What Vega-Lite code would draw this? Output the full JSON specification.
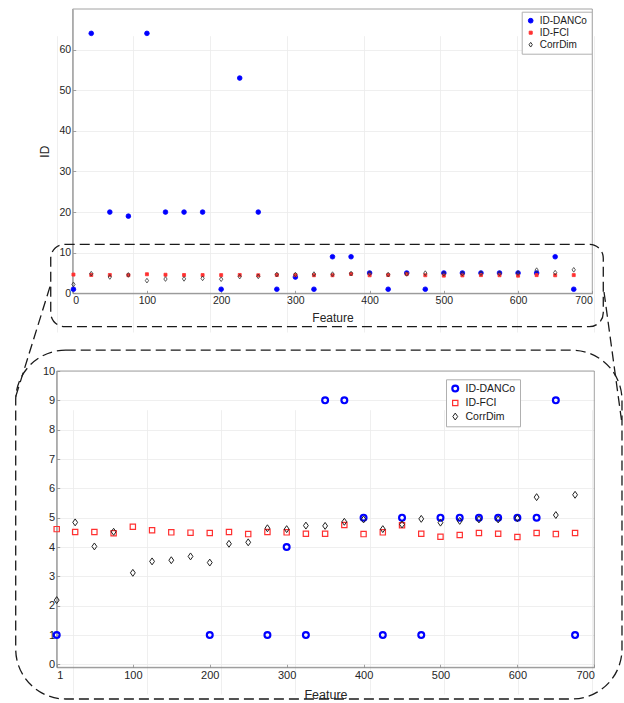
{
  "$schema": "https://vega.github.io/schema/vega-lite/v6.json",
  "width": 624,
  "height": 703,
  "autosize": {"type": "none"},
  "padding": 0,
  "background": "white",
  "datasets": {
    "pts": [
      {"feature":1,"series":"ID-DANCo","id":1},{"feature":25,"series":"ID-DANCo","id":64},{"feature":50,"series":"ID-DANCo","id":20},{"feature":75,"series":"ID-DANCo","id":19},{"feature":100,"series":"ID-DANCo","id":64},{"feature":125,"series":"ID-DANCo","id":20},{"feature":150,"series":"ID-DANCo","id":20},{"feature":175,"series":"ID-DANCo","id":20},{"feature":200,"series":"ID-DANCo","id":1},{"feature":225,"series":"ID-DANCo","id":53},{"feature":250,"series":"ID-DANCo","id":20},{"feature":275,"series":"ID-DANCo","id":1},{"feature":300,"series":"ID-DANCo","id":4},{"feature":325,"series":"ID-DANCo","id":1},{"feature":350,"series":"ID-DANCo","id":9},{"feature":375,"series":"ID-DANCo","id":9},{"feature":400,"series":"ID-DANCo","id":5},{"feature":425,"series":"ID-DANCo","id":1},{"feature":450,"series":"ID-DANCo","id":5},{"feature":475,"series":"ID-DANCo","id":1},{"feature":500,"series":"ID-DANCo","id":5},{"feature":525,"series":"ID-DANCo","id":5},{"feature":550,"series":"ID-DANCo","id":5},{"feature":575,"series":"ID-DANCo","id":5},{"feature":600,"series":"ID-DANCo","id":5},{"feature":625,"series":"ID-DANCo","id":5},{"feature":650,"series":"ID-DANCo","id":9},{"feature":675,"series":"ID-DANCo","id":1},
      {"feature":1,"series":"ID-FCI","id":4.61},{"feature":25,"series":"ID-FCI","id":4.51},{"feature":50,"series":"ID-FCI","id":4.51},{"feature":75,"series":"ID-FCI","id":4.47},{"feature":100,"series":"ID-FCI","id":4.69},{"feature":125,"series":"ID-FCI","id":4.57},{"feature":150,"series":"ID-FCI","id":4.5},{"feature":175,"series":"ID-FCI","id":4.49},{"feature":200,"series":"ID-FCI","id":4.48},{"feature":225,"series":"ID-FCI","id":4.51},{"feature":250,"series":"ID-FCI","id":4.44},{"feature":275,"series":"ID-FCI","id":4.51},{"feature":300,"series":"ID-FCI","id":4.5},{"feature":325,"series":"ID-FCI","id":4.45},{"feature":350,"series":"ID-FCI","id":4.45},{"feature":375,"series":"ID-FCI","id":4.75},{"feature":400,"series":"ID-FCI","id":4.44},{"feature":425,"series":"ID-FCI","id":4.5},{"feature":450,"series":"ID-FCI","id":4.74},{"feature":475,"series":"ID-FCI","id":4.45},{"feature":500,"series":"ID-FCI","id":4.35},{"feature":525,"series":"ID-FCI","id":4.41},{"feature":550,"series":"ID-FCI","id":4.48},{"feature":575,"series":"ID-FCI","id":4.45},{"feature":600,"series":"ID-FCI","id":4.34},{"feature":625,"series":"ID-FCI","id":4.48},{"feature":650,"series":"ID-FCI","id":4.44},{"feature":675,"series":"ID-FCI","id":4.48},
      {"feature":1,"series":"CorrDim","id":2.19},{"feature":25,"series":"CorrDim","id":4.84},{"feature":50,"series":"CorrDim","id":4.02},{"feature":75,"series":"CorrDim","id":4.52},{"feature":100,"series":"CorrDim","id":3.12},{"feature":125,"series":"CorrDim","id":3.51},{"feature":150,"series":"CorrDim","id":3.55},{"feature":175,"series":"CorrDim","id":3.68},{"feature":200,"series":"CorrDim","id":3.47},{"feature":225,"series":"CorrDim","id":4.11},{"feature":250,"series":"CorrDim","id":4.16},{"feature":275,"series":"CorrDim","id":4.64},{"feature":300,"series":"CorrDim","id":4.61},{"feature":325,"series":"CorrDim","id":4.73},{"feature":350,"series":"CorrDim","id":4.72},{"feature":375,"series":"CorrDim","id":4.86},{"feature":400,"series":"CorrDim","id":4.94},{"feature":425,"series":"CorrDim","id":4.61},{"feature":450,"series":"CorrDim","id":4.77},{"feature":475,"series":"CorrDim","id":4.96},{"feature":500,"series":"CorrDim","id":4.83},{"feature":525,"series":"CorrDim","id":4.89},{"feature":550,"series":"CorrDim","id":4.94},{"feature":575,"series":"CorrDim","id":4.94},{"feature":600,"series":"CorrDim","id":4.98},{"feature":625,"series":"CorrDim","id":5.7},{"feature":650,"series":"CorrDim","id":5.09},{"feature":675,"series":"CorrDim","id":5.78}
    ],
    "one": [{}]
  },
  "layer": [
    {
      "data": {"name": "one"},
      "mark": {"type": "rect", "fill": "transparent", "stroke": "#8c8c8c", "strokeWidth": 0.8},
      "encoding": {
        "x": {"datum": 0, "type": "quantitative", "scale": {"domain": [0, 700], "range": [72.7, 592.3], "nice": false, "zero": false}, "axis": null},
        "x2": {"datum": 700},
        "y": {"datum": 0, "type": "quantitative", "scale": {"domain": [0, 70], "range": [293.3, 9], "nice": false, "zero": false}, "axis": null},
        "y2": {"datum": 70}
      }
    },
    {
      "data": {"name": "pts"},
      "mark": {"type": "point", "filled": true, "strokeWidth": 0.8, "opacity": 1},
      "encoding": {
        "x": {"field": "feature", "type": "quantitative",
          "scale": {"domain": [0, 700], "range": [72.7, 592.3], "nice": false, "zero": false},
          "axis": {"orient": "bottom", "offset": -409.7, "values": [0,100,200,300,400,500,600,700], "title": "Feature", "grid": true, "titlePadding": 7}},
        "y": {"field": "id", "type": "quantitative",
          "scale": {"domain": [0, 70], "range": [293.3, 9], "nice": false, "zero": false},
          "axis": {"orient": "left", "offset": -72.7, "values": [0,10,20,30,40,50,60], "title": "ID", "grid": true, "titlePadding": 8}},
        "fill": {"field": "series", "type": "nominal", "scale": {"domain": ["ID-DANCo","ID-FCI","CorrDim"], "range": ["#0000ff","#ff3030","transparent"]},
          "legend": {"orient": "none", "legendX": 521.7, "legendY": 11.7, "title": null, "labelFontSize": 10, "rowPadding": 2, "labelOffset": 4}},
        "stroke": {"field": "series", "type": "nominal", "scale": {"domain": ["ID-DANCo","ID-FCI","CorrDim"], "range": ["#0000ff","#ff3030","#333333"]},
          "legend": {"orient": "none", "legendX": 521.7, "legendY": 11.7, "title": null, "labelFontSize": 10, "rowPadding": 2, "labelOffset": 4}},
        "shape": {"field": "series", "type": "nominal", "scale": {"domain": ["ID-DANCo","ID-FCI","CorrDim"], "range": ["circle","square","M0,-1L0.7,0L0,1L-0.7,0Z"]},
          "legend": {"orient": "none", "legendX": 521.7, "legendY": 11.7, "title": null, "labelFontSize": 10, "rowPadding": 2, "labelOffset": 4}},
        "size": {"field": "series", "type": "nominal", "scale": {"type": "ordinal", "domain": ["ID-DANCo","ID-FCI","CorrDim"], "range": [22, 9, 22]},
          "legend": {"orient": "none", "legendX": 521.7, "legendY": 11.7, "title": null, "labelFontSize": 10, "rowPadding": 2, "labelOffset": 4}}
      }
    },
    {
      "data": {"name": "one"},
      "mark": {"type": "rect", "fill": "transparent", "stroke": "#1a1a1a", "strokeWidth": 1.3, "strokeDash": [10, 5], "cornerRadius": 14},
      "encoding": {
        "x": {"datum": -29.6, "type": "quantitative", "scale": {"domain": [0, 700], "range": [72.7, 592.3], "nice": false, "zero": false}, "axis": null},
        "x2": {"datum": 714.8},
        "y": {"datum": 12.07, "type": "quantitative", "scale": {"domain": [0, 70], "range": [293.3, 9], "nice": false, "zero": false}, "axis": null},
        "y2": {"datum": -8.22}
      }
    },
    {
      "data": {"name": "one"},
      "mark": {"type": "rule", "stroke": "#1a1a1a", "strokeWidth": 1.3, "strokeDash": [10, 5]},
      "encoding": {
        "x": {"datum": -30.6, "type": "quantitative", "scale": {"domain": [0, 700], "range": [72.7, 592.3], "nice": false, "zero": false}, "axis": null},
        "x2": {"datum": -76.8},
        "y": {"datum": 1.63, "type": "quantitative", "scale": {"domain": [0, 70], "range": [293.3, 9], "nice": false, "zero": false}, "axis": null},
        "y2": {"datum": -25.46}
      }
    },
    {
      "data": {"name": "one"},
      "mark": {"type": "rule", "stroke": "#1a1a1a", "strokeWidth": 1.3, "strokeDash": [10, 5]},
      "encoding": {
        "x": {"datum": 715.8, "type": "quantitative", "scale": {"domain": [0, 700], "range": [72.7, 592.3], "nice": false, "zero": false}, "axis": null},
        "x2": {"datum": 739.3},
        "y": {"datum": 0.32, "type": "quantitative", "scale": {"domain": [0, 70], "range": [293.3, 9], "nice": false, "zero": false}, "axis": null},
        "y2": {"datum": -31.2}
      }
    },
    {
      "data": {"name": "one"},
      "mark": {"type": "rect", "fill": "transparent", "stroke": "#8c8c8c", "strokeWidth": 0.8},
      "encoding": {
        "x": {"datum": 1, "type": "quantitative", "scale": {"domain": [1, 700], "range": [56.7, 594.3], "nice": false, "zero": false}, "axis": null},
        "x2": {"datum": 700},
        "y": {"datum": -0.1, "type": "quantitative", "scale": {"domain": [-0.1, 10], "range": [667.3, 371], "nice": false, "zero": false}, "axis": null},
        "y2": {"datum": 10}
      }
    },
    {
      "data": {"name": "pts"},
      "transform": [{"filter": "datum.id <= 10"}],
      "mark": {"type": "point", "filled": false, "fill": "transparent", "opacity": 1},
      "encoding": {
        "x": {"field": "feature", "type": "quantitative",
          "scale": {"domain": [1, 700], "range": [56.7, 594.3], "nice": false, "zero": false},
          "axis": {"orient": "bottom", "offset": -35.7, "values": [1,100,200,300,400,500,600,700], "title": "Feature", "grid": true, "titlePadding": 8, "labelFontSize": 11, "titleFontSize": 12.5}},
        "y": {"field": "id", "type": "quantitative",
          "scale": {"domain": [-0.1, 10], "range": [667.3, 371], "nice": false, "zero": false},
          "axis": {"orient": "left", "offset": -56.7, "values": [0,1,2,3,4,5,6,7,8,9,10], "title": null, "grid": true, "labelFontSize": 11}},
        "stroke": {"field": "series", "type": "nominal", "scale": {"domain": ["ID-DANCo","ID-FCI","CorrDim"], "range": ["#0000ff","#ff3030","#222222"]},
          "legend": {"orient": "none", "legendX": 446, "legendY": 379.3, "title": null, "labelFontSize": 10.5, "rowPadding": 1.5, "labelOffset": 5}},
        "shape": {"field": "series", "type": "nominal", "scale": {"domain": ["ID-DANCo","ID-FCI","CorrDim"], "range": ["circle","square","M0,-1L0.7,0L0,1L-0.7,0Z"]},
          "legend": {"orient": "none", "legendX": 446, "legendY": 379.3, "title": null, "labelFontSize": 10.5, "rowPadding": 1.5, "labelOffset": 5}},
        "size": {"field": "series", "type": "nominal", "scale": {"type": "ordinal", "domain": ["ID-DANCo","ID-FCI","CorrDim"], "range": [34, 28, 48]},
          "legend": {"orient": "none", "legendX": 446, "legendY": 379.3, "title": null, "labelFontSize": 10.5, "rowPadding": 1.5, "labelOffset": 5}},
        "strokeWidth": {"field": "series", "type": "nominal", "scale": {"type": "ordinal", "domain": ["ID-DANCo","ID-FCI","CorrDim"], "range": [2.2, 1.2, 1]},
          "legend": {"orient": "none", "legendX": 446, "legendY": 379.3, "title": null, "labelFontSize": 10.5, "rowPadding": 1.5, "labelOffset": 5}}
      }
    },
    {
      "data": {"name": "one"},
      "mark": {"type": "rect", "fill": "transparent", "stroke": "#1a1a1a", "strokeWidth": 1.3, "strokeDash": [10, 5], "cornerRadius": 50},
      "encoding": {
        "x": {"datum": -52.3, "type": "quantitative", "scale": {"domain": [1, 700], "range": [56.7, 594.3], "nice": false, "zero": false}, "axis": null},
        "x2": {"datum": 736},
        "y": {"datum": 10.71, "type": "quantitative", "scale": {"domain": [-0.1, 10], "range": [667.3, 371], "nice": false, "zero": false}, "axis": null},
        "y2": {"datum": -1.18}
      }
    }
  ],
  "resolve": {
    "scale": {"x": "independent", "y": "independent", "fill": "independent", "stroke": "independent", "shape": "independent", "size": "independent", "strokeWidth": "independent"},
    "axis": {"x": "independent", "y": "independent"},
    "legend": {"fill": "independent", "stroke": "independent", "shape": "independent", "size": "independent", "strokeWidth": "independent"}
  },
  "config": {
    "view": {"stroke": null},
    "font": "Liberation Sans",
    "axis": {
      "labelFont": "Liberation Sans", "titleFont": "Liberation Sans",
      "labelFontSize": 10.5, "titleFontSize": 12, "titleFontWeight": "normal",
      "labelColor": "#262626", "titleColor": "#262626",
      "domainColor": "#8c8c8c", "domainWidth": 0.8,
      "tickColor": "#8c8c8c", "tickWidth": 0.8, "tickSize": -3,
      "labelPadding": 5,
      "gridColor": "#ebebeb", "gridWidth": 0.8
    },
    "legend": {
      "labelFont": "Liberation Sans", "labelColor": "#1a1a1a",
      "padding": 4, "strokeColor": "#b0b0b0", "fillColor": "#ffffff",
      "labelOffset": 5, "symbolStrokeWidth": 1
    }
  }
}
